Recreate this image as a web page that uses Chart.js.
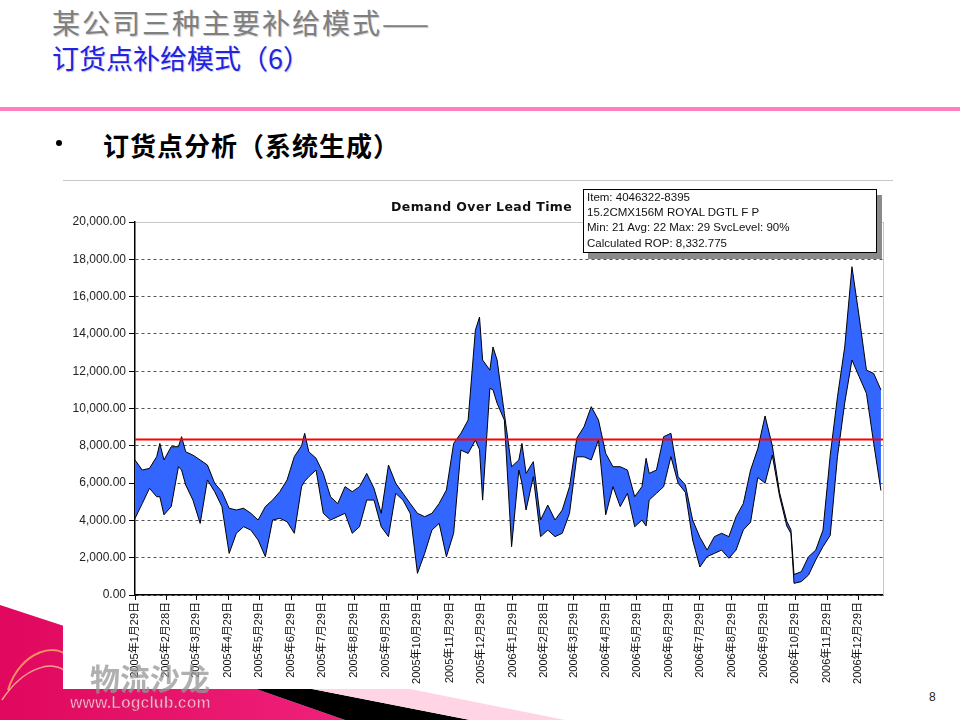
<!DOCTYPE html>
<html>
<head>
<meta charset="utf-8">
<title>订货点补给模式（6）</title>
<script src="https://cdn.jsdelivr.net/npm/chart.js@4.4.1/dist/chart.umd.min.js"></script>
<style>
  html, body { margin: 0; padding: 0; background: #fff; }
  body { width: 960px; height: 720px; position: relative; overflow: hidden;
         font-family: 'Liberation Sans', 'Noto Sans CJK SC', sans-serif; }
  .abs { position: absolute; white-space: nowrap; }
  #title1 { left: 52px; top: 8px; font: 28px/28px 'Noto Sans CJK SC', sans-serif; letter-spacing: 2px;
            color: #7f7f7f; text-shadow: 1px 1px 1px #c8c8c8; }
  #title2 { left: 52px; top: 44px; font: 27px/27px 'Noto Sans CJK SC', sans-serif;
            color: #2222e0; text-shadow: 1px 1px 1px #c8c8e8; }
  #pinkRule { left: 0; top: 107px; width: 960px; height: 4px; background: #ff7fbf; }
  #bullet { left: 56px; top: 140px; width: 6px; height: 6px; border-radius: 3px; background: #000; }
  #subtitle { left: 103px; top: 132px; font: bold 26px/26px 'Noto Sans CJK SC', sans-serif; letter-spacing: 1px; color: #000; }
  #chartBox { left: 63px; top: 180px; width: 830px; height: 508px; background: #fff; border-top: 1px solid #c8c8c8; }
  #chartWrap { left: 63px; top: 181px; width: 840px; height: 507px; }
  #chartTitle { left: 391px; top: 199px; font: bold 12.5px/15px 'DejaVu Sans', sans-serif; letter-spacing: 0.4px; color: #111; }
  #infoBox { left: 583px; top: 189px; width: 286px; height: 62px; padding: 0 3px; background: #fff;
             border: 1px solid #000; box-shadow: 5px 6px 0 #8a8a8a;
             font: 11.5px/15.2px 'Liberation Sans', sans-serif; color: #111; }
  #pageNo { left: 929px; top: 690px; font: 12px/14px 'Liberation Sans', sans-serif; color: #222; }
  #logoCn { left: 90px; top: 661px; font: bold 30px/32px 'Noto Sans CJK SC', sans-serif;
            color: rgba(150,150,150,0.75); }
  #logoEn { left: 70px; top: 695px; font: bold 16px/16px 'Liberation Sans', sans-serif; color: #ffb0c8;
            -webkit-text-stroke: 0.6px #c02060; }
</style>
</head>
<body>

<svg class="abs" style="left:0;top:0" width="960" height="720">
  <defs>
    <linearGradient id="mag" x1="0" y1="0" x2="1" y2="0">
      <stop offset="0" stop-color="#e0085e"/>
      <stop offset="1" stop-color="#f0207a"/>
    </linearGradient>
  </defs>
  <polygon points="0,605 253,688 345,720 0,720" fill="url(#mag)"/>
  <polygon points="253,688 307,688 470,720 345,720" fill="#000"/>
  <polygon points="307,688 405,688 565,720 470,720" fill="#ffd4e4"/>
  <path d="M8,690 C20,650 60,640 70,660" stroke="#f7b060" stroke-width="2" fill="none" opacity="0.8"/>
  <path d="M2,700 C25,665 55,660 66,672" stroke="#ffe0a0" stroke-width="1.5" fill="none" opacity="0.7"/>
</svg>

<div class="abs" id="title1">某公司三种主要补给模式——</div>
<div class="abs" id="title2">订货点补给模式（6）</div>
<div class="abs" id="pinkRule"></div>
<div class="abs" id="bullet"></div>
<div class="abs" id="subtitle">订货点分析（系统生成）</div>

<div class="abs" id="chartBox"></div>
<div class="abs" id="chartWrap"><canvas id="myChart" width="840" height="507"></canvas></div>
<div class="abs" id="chartTitle">Demand Over Lead Time</div>
<div class="abs" id="infoBox">
  <div id="infoItem"></div>
  <div id="infoDesc"></div>
  <div id="infoStats"></div>
  <div id="infoRop"></div>
</div>

<div class="abs" id="logoCn">物流沙龙</div>
<div class="abs" id="logoEn">www.Logclub.com</div>
<div class="abs" id="pageNo">8</div>

<script>
// Chart data
const tickLabels = [
  "2005年1月29日", "2005年2月28日", "2005年3月29日", "2005年4月29日",
  "2005年5月29日", "2005年6月29日", "2005年7月29日", "2005年8月29日",
  "2005年9月29日", "2005年10月29日", "2005年11月29日", "2005年12月29日",
  "2006年1月29日", "2006年2月28日", "2006年3月29日", "2006年4月29日",
  "2006年5月29日", "2006年6月29日", "2006年7月29日", "2006年8月29日",
  "2006年9月29日", "2006年10月29日", "2006年11月29日", "2006年12月29日",
];

// days after 2005-01-29 (about weekly, plus a few spikes)
const sampleDays = [
  0, 7, 14, 21, 24, 28, 35, 42, 45, 49, 56, 63,
  70, 77, 84, 91, 98, 105, 112, 119, 126, 133,
  140, 147, 154, 161, 164, 168, 175, 182, 189, 196, 203,
  210, 217, 224, 231, 238, 245, 252, 259, 266, 273,
  280, 287, 294, 301, 308, 315, 322, 329, 333, 336, 343, 346,
  350, 357, 364, 371, 374, 378, 385, 392, 399, 406, 413,
  420, 427, 434, 441, 448, 455, 462, 469, 476, 483,
  490, 494, 497, 504, 511, 518, 525, 532, 539, 546, 553,
  560, 567, 574, 581, 588, 595, 602, 609, 616, 623,
  630, 634, 637, 644, 651, 658, 665, 672, 679, 686, 693,
  700, 707, 714, 721,
];

const upperDemand = [
  7240, 6700, 6790, 7420, 8130, 7240, 7950, 7950, 8490, 7680, 7500, 7240,
  6970, 5990, 5540, 4650, 4560, 4650, 4380, 4020, 4740, 5090,
  5540, 6170, 7420, 8000, 8670, 7680, 7330, 6520, 5270, 4900, 5810,
  5540, 5810, 6520, 5720, 4380, 6970, 5990, 5450, 4910, 4380,
  4200, 4380, 4910, 5630, 8130, 8670, 9380, 14200, 14900, 12600, 12060, 13300,
  12600, 9740, 6880, 7240, 8130, 6520, 7150, 4020, 4820, 4020, 4560,
  5810, 8400, 9020, 10100, 9380, 7590, 6880, 6880, 6700, 5270,
  5810, 7330, 6520, 6700, 8490, 8670, 6340, 5900, 4020, 3100, 2410,
  3130, 3310, 3130, 4200, 4910, 6700, 7850, 9600, 8000, 5500,
  3950, 3500, 1100, 1250, 2050, 2410, 3480, 7500, 10630, 13300, 17600,
  14900, 12060, 11880, 11000,
];

const lowerDemand = [
  4110, 4900, 5720, 5270, 5270, 4300, 4740, 6880, 6700, 5900, 5090, 3840,
  6170, 5540, 4740, 2230, 3310, 3660, 3480, 2950, 2055, 4020,
  4110, 3930, 3310, 5810, 6100, 6340, 6700, 4380, 4020, 4200, 4380,
  3310, 3660, 5090, 5090, 3660, 3130, 5450, 5090, 4380, 1160,
  2230, 3480, 3840, 2055, 3310, 7770, 7590, 8300, 7800, 5090, 11080, 11000,
  10280, 9380, 2590, 6700, 6000, 4560, 6340, 3130, 3480, 3130, 3310,
  4380, 7410, 7410, 7240, 8310, 4300, 5810, 4740, 5450, 3660,
  4020, 3700, 5090, 5450, 5810, 7420, 5990, 5500, 2950, 1500, 2060,
  2230, 2410, 1970, 2410, 3490, 3900, 6300, 6000, 7500, 5300,
  3700, 3300, 625, 715, 1070, 1880, 2590, 3200, 7420, 10300, 12600,
  11700, 10810, 8130, 5600,
];

const reorderPoint = 8332.775;
const yMin = 0;
const yMax = 20000;
const yStep = 2000;
const xEndDay = 723;

const infoLines = [
  "Item: 4046322-8395",
  "15.2CMX156M ROYAL DGTL F P",
  "Min: 21 Avg: 22 Max: 29 SvcLevel: 90%",
  "Calculated ROP: " + reorderPoint.toLocaleString("en-US", { maximumFractionDigits: 3 }),
];

document.getElementById("infoItem").textContent = infoLines[0];
document.getElementById("infoDesc").textContent = infoLines[1];
document.getElementById("infoStats").textContent = infoLines[2];
document.getElementById("infoRop").textContent = infoLines[3];

// turn "2005年1月29日" into days after the first tick
const startDate = Date.UTC(2005, 0, 29);
function labelToDay(label) {
  const m = label.match(/(\d+)年(\d+)月(\d+)日/);
  return Math.round((Date.UTC(+m[1], +m[2] - 1, +m[3]) - startDate) / 86400000);
}
const tickDays = tickLabels.map(labelToDay);

// light grey right edge of the plot
const rightFrame = {
  id: "rightFrame",
  beforeDatasetsDraw(chart) {
    const { ctx, chartArea } = chart;
    ctx.save();
    ctx.strokeStyle = "#c8c8c8";
    ctx.lineWidth = 1;
    ctx.beginPath();
    ctx.moveTo(chartArea.right + 0.5, chartArea.top);
    ctx.lineTo(chartArea.right + 0.5, chartArea.bottom);
    ctx.stroke();
    ctx.restore();
  },
};

Chart.defaults.font.family = "'Liberation Sans', 'Noto Sans CJK SC', sans-serif";

const ctx = document.getElementById("myChart").getContext("2d");
const chart = new Chart(ctx, {
  type: "line",
  data: {
    datasets: [
      {
        label: "ROP",
        data: [{ x: 0, y: reorderPoint }, { x: xEndDay, y: reorderPoint }],
        borderColor: "#ff0000",
        borderWidth: 2,
        pointRadius: 0,
        fill: false,
        order: 0,
      },
      {
        label: "Upper",
        data: sampleDays.map((d, i) => ({ x: d, y: upperDemand[i] })),
        borderColor: "#000",
        borderWidth: 1,
        backgroundColor: "#3366ff",
        fill: "+1",
        pointRadius: 0,
        tension: 0,
        order: 1,
      },
      {
        label: "Lower",
        data: sampleDays.map((d, i) => ({ x: d, y: lowerDemand[i] })),
        borderColor: "#000",
        borderWidth: 1,
        fill: false,
        pointRadius: 0,
        tension: 0,
        order: 2,
      },
    ],
  },
  options: {
    responsive: false,
    animation: false,
    layout: { padding: { top: 41, right: 20, bottom: 0, left: 0 } },
    plugins: {
      legend: { display: false },
      tooltip: { enabled: false },
      filler: { drawTime: "beforeDatasetsDraw" },
    },
    scales: {
      x: {
        type: "linear",
        min: 0,
        max: xEndDay,
        afterBuildTicks: (scale) => {
          scale.ticks = tickDays.map((v) => ({ value: v }));
        },
        afterFit: (scale) => {
          scale.height = 93;
        },
        ticks: {
          autoSkip: false,
          minRotation: 90,
          maxRotation: 90,
          padding: 2,
          color: "#111",
          font: { size: 11 },
          callback: (value, index) => tickLabels[index],
        },
        grid: { drawOnChartArea: false, drawTicks: true, tickLength: 5, tickColor: "#000" },
        border: { display: true, color: "#000", width: 1.5 },
      },
      y: {
        min: yMin,
        max: yMax,
        afterFit: (scale) => {
          scale.width = 72;
        },
        ticks: {
          stepSize: yStep,
          padding: 3,
          color: "#222",
          font: { size: 12 },
          callback: (v) => v.toLocaleString("en-US", { minimumFractionDigits: 2, maximumFractionDigits: 2 }),
        },
        grid: {
          color: (c) => (c.tick && c.tick.value === yMax ? "#c8c8c8" : "#555"),
          lineWidth: 1,
          tickLength: 6,
          tickColor: "#000",
          tickBorderDash: [],
        },
        border: {
          display: true,
          color: "#000",
          width: 1.5,
          dash: (c) => (c.tick && c.tick.value === yMax ? [] : [3, 3]),
        },
      },
    },
  },
  plugins: [rightFrame],
});
</script>
</body>
</html>
